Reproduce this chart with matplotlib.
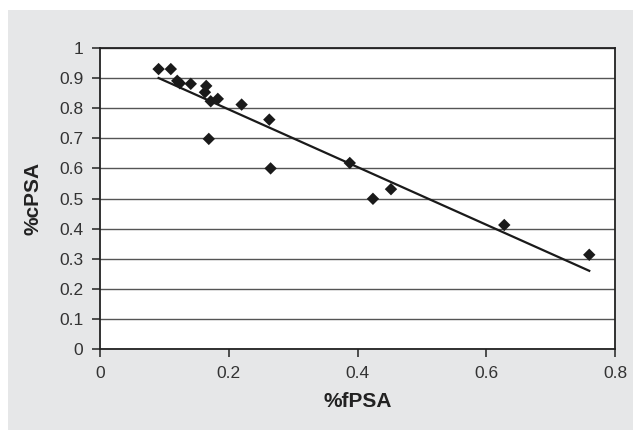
import numpy as np
import matplotlib
matplotlib.use("Agg")
import matplotlib.pyplot as plt
from matplotlib.patches import Rectangle

# %fPSA vs %cPSA
fpsa = [0.091, 0.110, 0.120, 0.124, 0.141, 0.165, 0.163, 0.172, 0.183,
        0.220, 0.263, 0.169, 0.265, 0.388, 0.452, 0.424, 0.628, 0.760]
cpsa = [0.930, 0.930, 0.891, 0.883, 0.881, 0.874, 0.853, 0.823, 0.831,
        0.812, 0.762, 0.698, 0.600, 0.618, 0.531, 0.499, 0.412, 0.313]
xticks = [0, 0.2, 0.4, 0.6, 0.8]
yticks = [0, 0.1, 0.2, 0.3, 0.4, 0.5, 0.6, 0.7, 0.8, 0.9, 1]

plt.rcParams["font.family"] = ["Liberation Sans", "DejaVu Sans"]

fig = plt.figure(figsize=(6.33, 4.30), dpi=100, facecolor="white")
bg = Rectangle((8 / 633, 0), 1 - 8 / 633, 1 - 10 / 430,
               transform=fig.transFigure, facecolor="#e6e7e8",
               edgecolor="none", zorder=-10)
fig.add_artist(bg)
ax = fig.add_axes([100 / 633, 81 / 430, 515 / 633, 301 / 430])
ax.set_zorder(5)
ax.set_facecolor("white")

x = np.array(fpsa)
y = np.array(cpsa)
slope, icpt = np.polyfit(x, y, 1)
xs = np.array([x.min(), x.max()])
ax.plot(xs, slope * xs + icpt, color="#1a1a1a", lw=1.6, zorder=3)
ax.scatter(x, y, marker="D", s=40, color="#1a1a1a", edgecolors="none", zorder=4)

ax.set_xlim(0, 0.8)
ax.set_ylim(0, 1)
ax.set_xticks(xticks)
ax.set_xticklabels(["0", "0.2", "0.4", "0.6", "0.8"])
ax.set_yticks(yticks)
ax.set_yticklabels(["0", "0.1", "0.2", "0.3", "0.4", "0.5", "0.6", "0.7", "0.8", "0.9", "1"])
ax.grid(axis="y", color="#555555", lw=1.0)
ax.set_axisbelow(True)
for s in ax.spines.values():
    s.set_color("#222222")
    s.set_linewidth(1.3)
ax.tick_params(direction="out", length=6, width=1.1, color="#222222",
               labelsize=12.5, labelcolor="#333333", pad=6)

lab = dict(fontsize=15, fontweight="bold", color="#222222")
ax.set_xlabel("%fPSA", labelpad=8, **lab)
ax.set_ylabel("%cPSA", labelpad=12, **lab)

fig.savefig("out.png", dpi=100)
